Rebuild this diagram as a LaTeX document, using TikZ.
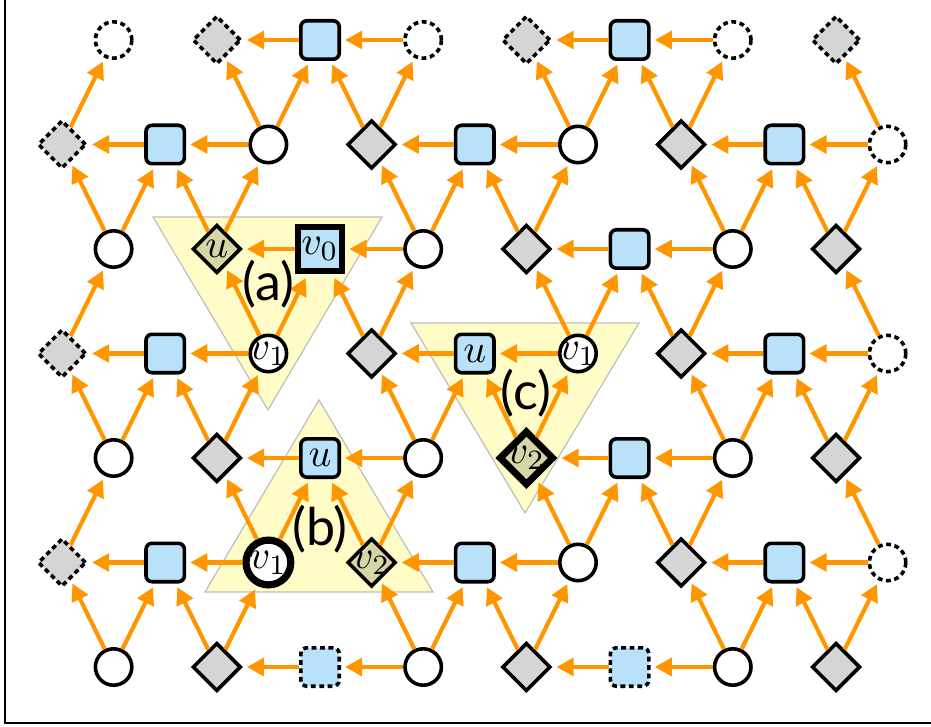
\documentclass[tikz,border=0pt]{standalone}
\usepackage{amsmath}
\usepackage{xcolor}
\usepackage{fontspec}
\usepackage{tikz}
\usetikzlibrary{shapes, arrows.meta, positioning, calc}
\setsansfont{Lato}

\definecolor{arrorange}{RGB}{255,150,0}
\definecolor{sqblue}{RGB}{186,225,250}
\definecolor{diagray}{RGB}{213,213,213}
\definecolor{olivefill}{RGB}{214,213,168}
\definecolor{patchyellow}{RGB}{255,252,200}
\definecolor{patchgray}{RGB}{190,190,190}

\begin{document}
\begin{tikzpicture}[x=0.25pt, y=-0.25pt,
  kind0/.style={circle, draw, line width=0.9pt, fill=white, minimum size=9.1pt, inner sep=0pt},
  kind1/.style={diamond, draw, line width=0.9pt, fill=diagray, minimum width=12.1pt, minimum height=12.1pt, inner sep=0pt},
  kind2/.style={rectangle, rounded corners=1.5pt, draw, line width=0.9pt, fill=sqblue, minimum size=9.6pt, inner sep=0pt},
  ghost/.style={dash pattern=on 1.2pt off 0.9pt},
  olive/.style={fill=olivefill},
  flow/.style={draw=arrorange, line width=1.05pt, -{Triangle[length=4.3pt,width=4.4pt]}, shorten >=1pt},
  patch/.style={fill=patchyellow, draw=patchgray, line width=0.3pt},
  tag/.style={font=\fontsize{13}{15}\selectfont\sffamily, inner sep=0pt},
  % marked nodes of the three cases
  spot2-3/.style={olive, label=center:$u$},
  spot2-5/.style={sharp corners, line width=1.7pt, minimum size=11pt, label=center:$v_0$},
  spot3-4/.style={label=center:$v_1$},
  spot4-5/.style={label=center:$u$},
  spot5-4/.style={line width=1.8pt, minimum size=11.2pt, label=center:$v_1$},
  spot5-6/.style={olive, label=center:$v_2$},
  spot3-8/.style={label=center:$u$},
  spot3-10/.style={label=center:$v_1$},
  spot4-9/.style={olive, line width=1.7pt, minimum width=13.8pt, minimum height=13.8pt, label=center:$v_2$}]
\useasboundingbox (0,0) rectangle (931,727);

% Frame
\draw[line width=0.5pt] (5,0) |- (931,723);

% Cases (a), (b), (c)
\draw[patch] (153,217) -- (382,217) -- (268,410) -- cycle;
\draw[patch] (319,400) -- (433,592) -- (205,592) -- cycle;
\draw[patch] (411,323) -- (639,323) -- (525,513) -- cycle;

% Lattice
\foreach \r in {0,...,6} {
  \pgfmathtruncatemacro\rp{mod(\r,2)}
  \ifnum\rp=0 \def\cols{1,3,...,15}\else\def\cols{0,2,...,16}\fi
  \foreach \c in \cols {
    \pgfmathtruncatemacro\kind{mod(floor(\c/2)+\rp,3)}
    \pgfmathtruncatemacro\faint{(\r==0 && \kind!=2) || (\rp==1 && (\c==0 || \c==16)) || (\r==6 && \kind==2)}
    \ifnum\faint=1 \def\look{ghost}\else\def\look{}\fi
    \node[kind\kind, \look, spot\r-\c/.try] (n\r-\c) at ({62+51.6*\c}, {40+104.5*\r}) {};
  }
}

% Arrows: circles and diamonds point up, circles and squares point left
\foreach \r in {0,...,6} {
  \pgfmathtruncatemacro\rp{mod(\r,2)}
  \ifnum\rp=0 \def\cols{1,3,...,15}\else\def\cols{0,2,...,16}\fi
  \foreach \c in \cols {
    \pgfmathtruncatemacro\kind{mod(floor(\c/2)+\rp,3)}
    \pgfmathtruncatemacro\up{\r-1}
    \pgfmathtruncatemacro\lc{\c-1}
    \pgfmathtruncatemacro\rc{\c+1}
    \pgfmathtruncatemacro\ll{\c-2}
    \ifnum\kind<2
      \ifcsname pgf@sh@ns@n\up-\lc\endcsname \draw[flow] (n\r-\c) -- (n\up-\lc); \fi
      \ifcsname pgf@sh@ns@n\up-\rc\endcsname \draw[flow] (n\r-\c) -- (n\up-\rc); \fi
    \fi
    \ifnum\kind=1 \else
      \ifcsname pgf@sh@ns@n\r-\ll\endcsname \draw[flow] (n\r-\c) -- (n\r-\ll); \fi
    \fi
  }
}

% Case labels
\node[tag] (tag-a) at (268,284) {(a)};
\node[tag] (tag-b) at (320,529) {(b)};
\node[tag] (tag-c) at (526,393) {(c)};
\end{tikzpicture}
\end{document}
